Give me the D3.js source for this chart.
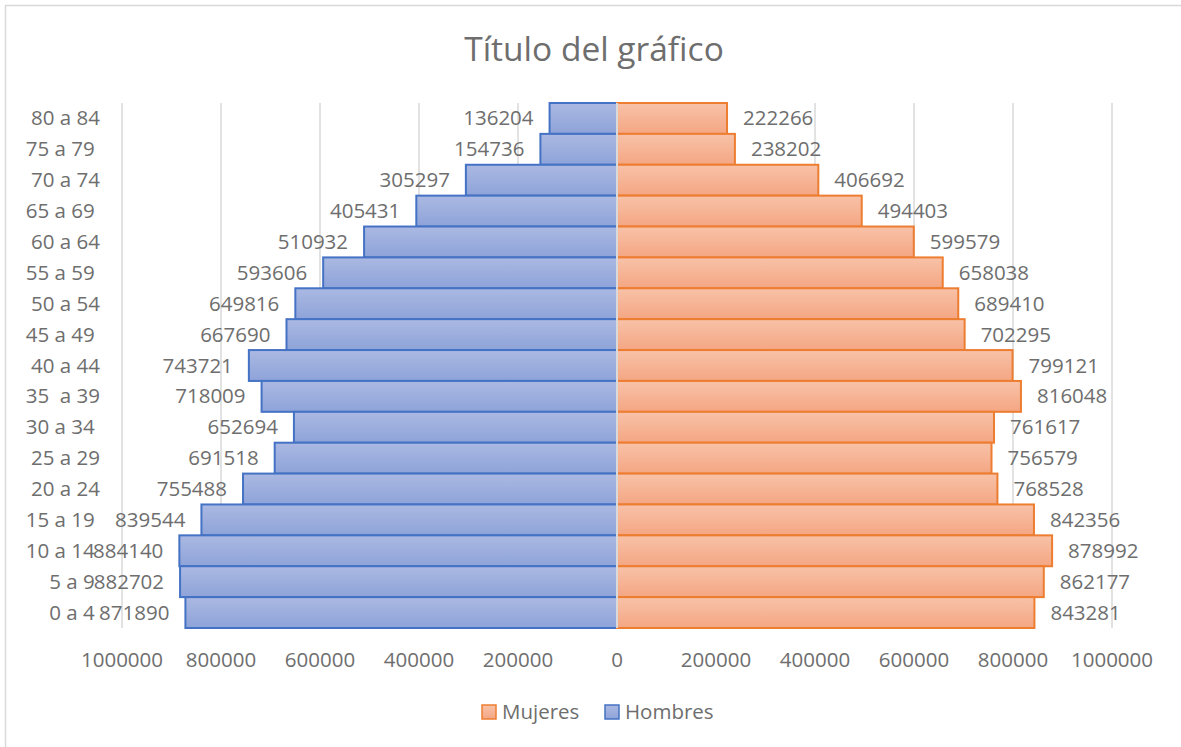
<!DOCTYPE html>
<html>
<head>
<meta charset="utf-8">
<script src="https://cdn.jsdelivr.net/npm/d3@7"></script>
<style>
  body { margin: 0; background: #fff; }
  svg text { font-family: "Open Sans", "Liberation Sans", sans-serif; fill: #6e6e6e; }
  .cat { white-space: pre; }
</style>
</head>
<body>
<script>
// age groups, top to bottom (trailing spaces as in the source sheet)
var categories = ["80 a 84", "75 a 79 ", "70 a 74", "65 a 69 ", "60 a 64", "55 a 59 ", "50 a 54",
  "45 a 49 ", "40 a 44", "35  a 39", "30 a 34 ", "25 a 29", "20 a 24", "15 a 19 ", "10 a 14 ", "5 a 9 ", "0 a 4 "];
var hombres = [136204, 154736, 305297, 405431, 510932, 593606, 649816, 667690, 743721, 718009,
  652694, 691518, 755488, 839544, 884140, 882702, 871890];
var mujeres = [222266, 238202, 406692, 494403, 599579, 658038, 689410, 702295, 799121, 816048,
  761617, 756579, 768528, 842356, 878992, 862177, 843281];
var tickValues = [-1000000, -800000, -600000, -400000, -200000, 0, 200000, 400000, 600000, 800000, 1000000];
var seriesNames = ["Mujeres", "Hombres"];

var width = 1181, height = 747;

var svg = d3.select("body").append("svg")
  .attr("width", width)
  .attr("height", height);

var defs = svg.append("defs");
function grad(id, top, bottom) {
  var g = defs.append("linearGradient").attr("id", id)
    .attr("x1", 0).attr("y1", 0).attr("x2", 0).attr("y2", 1);
  g.append("stop").attr("offset", "0%").attr("stop-color", top);
  g.append("stop").attr("offset", "100%").attr("stop-color", bottom);
}
grad("gBlue", "#abb9e2", "#8ea3d9");
grad("gOrange", "#f8c2a8", "#f4a683");

// chart frame
svg.append("rect")
  .attr("x", 5.5).attr("y", 5.5)
  .attr("width", width + 10).attr("height", height + 10)
  .attr("fill", "none").attr("stroke", "#d9d9d9").attr("stroke-width", 1.5);

var x = d3.scaleLinear().domain([-1000000, 1000000]).range([122, 1112]);
var y = d3.scaleBand().domain(categories).range([103, 628]).padding(0);

// title
svg.append("text")
  .attr("x", 594).attr("y", 61)
  .attr("text-anchor", "middle")
  .style("font-size", "33.5px")
  .text("Título del gráfico");

// gridlines
svg.append("g").selectAll("line")
  .data(tickValues)
  .join("line")
  .attr("x1", d => x(d)).attr("x2", d => x(d))
  .attr("y1", 103).attr("y2", 628)
  .attr("stroke", "#d9d9d9").attr("stroke-width", 1.5);

// bars
svg.append("g").selectAll("rect")
  .data(categories)
  .join("rect")
  .attr("x", (d, i) => x(-hombres[i]))
  .attr("y", d => y(d))
  .attr("width", (d, i) => x(0) - x(-hombres[i]))
  .attr("height", y.bandwidth())
  .attr("fill", "url(#gBlue)")
  .attr("stroke", "#4472c4").attr("stroke-width", 2);

svg.append("g").selectAll("rect")
  .data(categories)
  .join("rect")
  .attr("x", x(0))
  .attr("y", d => y(d))
  .attr("width", (d, i) => x(mujeres[i]) - x(0))
  .attr("height", y.bandwidth())
  .attr("fill", "url(#gOrange)")
  .attr("stroke", "#ed7d31").attr("stroke-width", 2);

// zero line on top
svg.append("line")
  .attr("x1", x(0)).attr("x2", x(0))
  .attr("y1", 103).attr("y2", 628)
  .attr("stroke", "#d9d9d9").attr("stroke-width", 2);

// data labels
svg.append("g").selectAll("text")
  .data(categories)
  .join("text")
  .attr("x", (d, i) => x(-hombres[i]) - 16)
  .attr("y", d => y(d) + y.bandwidth() / 2 + 7)
  .attr("text-anchor", "end")
  .style("font-size", "20.5px")
  .text((d, i) => hombres[i]);

svg.append("g").selectAll("text")
  .data(categories)
  .join("text")
  .attr("x", (d, i) => x(mujeres[i]) + 16)
  .attr("y", d => y(d) + y.bandwidth() / 2 + 7)
  .attr("text-anchor", "start")
  .style("font-size", "20.5px")
  .text((d, i) => mujeres[i]);

// category labels (keep the spaces)
svg.append("g").selectAll("text")
  .data(categories)
  .join("text")
  .attr("class", "cat")
  .attr("xml:space", "preserve")
  .attr("x", 100)
  .attr("y", d => y(d) + y.bandwidth() / 2 + 7)
  .attr("text-anchor", "end")
  .style("font-size", "20.5px")
  .text(d => d);

// x axis tick labels
svg.append("g").selectAll("text")
  .data(tickValues)
  .join("text")
  .attr("x", d => x(d))
  .attr("y", 667)
  .attr("text-anchor", "middle")
  .style("font-size", "20.5px")
  .text(d => Math.abs(d));

// legend
var legend = svg.append("g").attr("transform", "translate(482,712)");
var legendFill = ["url(#gOrange)", "url(#gBlue)"];
var legendStroke = ["#ed7d31", "#4472c4"];
var legendX = [0, 123];
var items = legend.selectAll("g")
  .data(seriesNames)
  .join("g")
  .attr("transform", (d, i) => "translate(" + legendX[i] + ",0)");
items.append("rect")
  .attr("x", 0).attr("y", -7)
  .attr("width", 14).attr("height", 14)
  .attr("fill", (d, i) => legendFill[i])
  .attr("stroke", (d, i) => legendStroke[i]).attr("stroke-width", 1.5);
items.append("text")
  .attr("x", 20).attr("y", 7)
  .style("font-size", "20.5px")
  .text(d => d);
</script>
</body>
</html>
